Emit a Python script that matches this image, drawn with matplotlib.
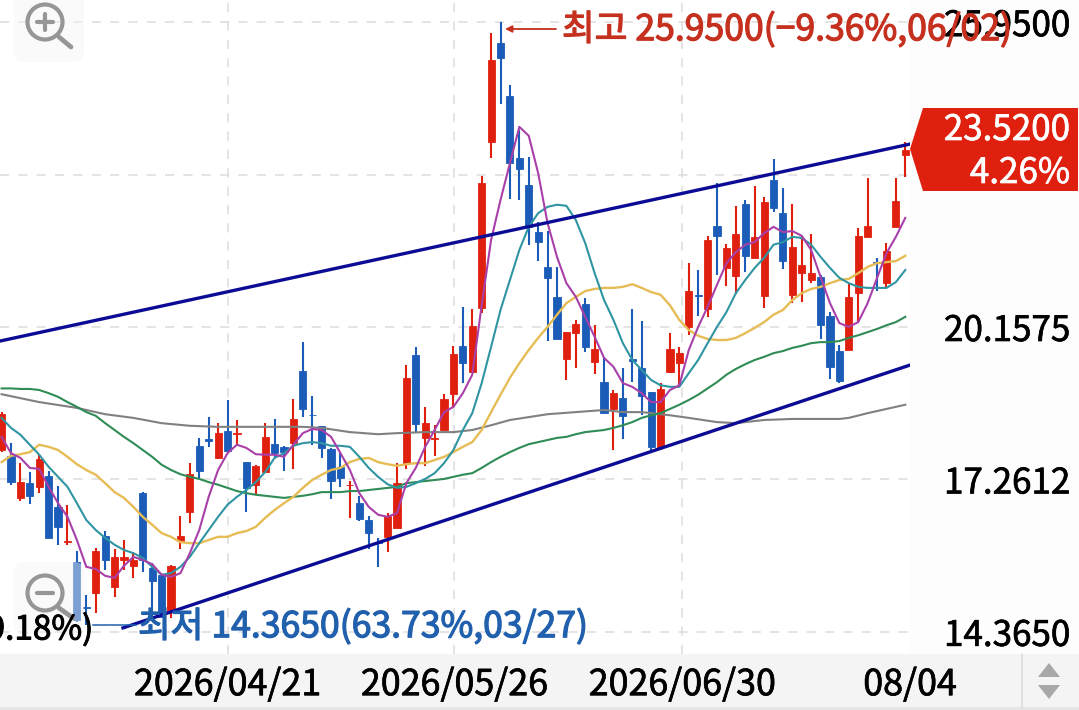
import matplotlib
matplotlib.use('Agg')
import numpy as np
import matplotlib.pyplot as plt
import matplotlib.patheffects as pe
from matplotlib.patches import Circle, FancyBboxPatch, Polygon, Rectangle

plt.rcParams['font.family'] = ['Noto Sans CJK KR', 'DejaVu Sans']

# ---- candles, oldest first ----
opens = [17.82,17.71,16.91,17.19,17.12,17.33,16.74,16.07,15.69,14.84,15.10,16.19,15.22,15.73,15.62,17.00,15.58,15.44,14.74,16.09,
         16.64,17.90,18.02,17.67,18.18,18.12,17.59,17.16,17.40,17.93,17.88,17.95,19.32,18.49,18.28,17.84,17.50,17.15,16.81,16.49,
         16.08,16.17,16.34,17.57,19.63,18.05,18.02,18.20,18.88,19.80,19.30,20.52,23.67,25.55,24.55,23.37,22.85,21.96,21.30,20.73,
         19.55,20.04,20.59,19.49,19.11,18.60,18.81,19.54,19.38,18.92,17.88,19.30,19.47,20.16,20.76,20.50,22.08,21.28,21.13,22.49,
         21.47,20.75,22.95,22.32,20.76,21.18,21.05,21.11,20.37,19.70,19.72,20.80,21.87,21.40,20.99,22.06,23.42]
closes = [18.50,17.21,17.21,16.95,17.65,16.15,16.36,16.09,14.59,14.82,15.90,15.73,15.79,15.79,15.73,15.73,15.33,14.65,15.62,16.19,
          17.36,17.42,18.00,18.14,17.80,18.14,17.10,17.52,18.07,17.76,17.78,18.41,18.60,18.48,17.86,17.23,17.29,17.16,16.51,16.24,
          16.06,16.57,17.19,19.19,18.31,18.33,18.04,18.79,19.64,19.47,20.18,22.89,25.23,25.27,23.27,23.16,22.06,21.77,21.09,19.93,
          20.06,20.21,19.78,19.74,18.52,18.90,18.47,19.52,18.85,17.88,18.98,19.74,19.66,20.84,20.74,21.81,21.89,21.66,21.92,21.51,
          21.87,22.53,22.42,21.41,21.68,21.34,21.18,20.19,19.40,19.13,20.73,21.89,22.08,21.38,21.60,22.55,23.52]
highs = [18.54,17.95,17.57,17.40,17.74,17.42,17.14,16.78,15.90,15.07,15.96,16.28,15.94,16.11,15.88,17.02,15.67,15.44,15.63,16.57,
         17.57,18.05,18.45,18.33,18.77,18.39,17.59,17.54,18.33,18.41,17.90,18.79,19.87,18.85,18.28,17.86,17.78,17.23,16.95,16.57,
         16.15,16.62,17.57,19.43,19.78,18.64,18.30,18.88,19.80,20.54,20.50,23.03,25.74,25.95,24.75,23.90,23.39,22.15,21.98,21.30,
         20.06,20.29,20.71,20.19,19.59,18.96,19.38,20.50,20.27,18.92,19.09,20.04,19.78,21.37,21.24,21.89,22.89,21.73,22.46,22.57,
         22.84,22.63,23.35,22.80,22.49,21.87,21.92,21.15,20.44,19.82,20.99,22.04,22.99,21.47,21.75,22.99,23.67]
lows = [17.78,17.15,16.85,16.79,17.00,16.15,16.02,16.02,14.55,14.50,14.72,15.54,15.03,15.54,15.39,15.50,14.65,14.63,14.63,15.94,
        16.43,17.29,17.88,17.65,17.78,17.90,16.64,16.98,17.38,17.69,17.42,17.46,18.45,17.92,17.67,16.89,17.12,16.53,16.47,15.94,
        15.60,15.88,16.34,17.46,18.14,17.52,17.71,18.18,18.64,19.09,19.30,20.42,23.37,24.39,22.59,22.57,21.71,21.41,19.89,19.93,
        19.15,19.38,19.68,19.26,18.52,17.82,18.03,19.11,18.48,17.82,17.82,19.28,19.02,20.00,20.37,20.35,21.15,20.94,20.78,21.20,
        21.47,20.52,22.34,21.26,20.61,20.63,20.99,19.93,19.17,19.09,19.72,20.25,21.87,20.84,20.92,22.06,23.01]

# ---- moving averages ----
ma5 = [18.07,17.76,17.67,17.48,17.46,17.12,16.81,16.55,16.11,15.60,15.56,15.43,15.39,15.62,15.79,15.73,15.65,15.45,15.41,15.48,
       15.86,16.30,16.93,17.44,17.76,17.92,17.86,17.74,17.73,17.73,17.69,17.92,18.14,18.22,18.20,18.07,17.76,17.44,17.00,16.74,
       16.59,16.55,16.62,17.19,17.48,17.88,18.20,18.54,18.64,18.90,19.25,20.57,21.81,22.57,23.27,23.96,23.79,23.08,22.13,21.49,
       20.99,20.73,20.35,19.97,19.57,19.40,19.09,19.02,18.90,18.73,18.73,18.96,19.05,19.72,20.16,20.54,20.96,21.37,21.58,21.72,
       21.77,21.94,22.06,21.96,21.98,21.89,21.62,21.11,20.61,20.23,20.16,20.25,20.61,21.09,21.56,21.87,22.23]
ma10 = [18.43,18.24,18.11,17.92,17.73,17.50,17.31,17.12,16.81,16.49,16.30,16.15,16.02,15.92,15.86,15.77,15.60,15.45,15.48,15.60,
        15.79,16.05,16.30,16.55,16.78,16.93,17.06,17.21,17.40,17.67,17.76,17.90,17.95,17.97,17.95,17.90,17.90,17.88,17.69,17.48,
        17.31,17.17,17.10,17.12,17.19,17.27,17.38,17.57,17.82,18.20,18.52,19.09,19.78,20.48,21.05,21.62,22.06,22.32,22.44,22.48,
        22.46,22.19,21.75,21.18,20.67,20.29,19.85,19.53,19.34,19.15,19.05,19.02,19.02,19.28,19.53,19.85,20.16,20.44,20.80,21.05,
        21.28,21.47,21.72,21.77,21.87,21.85,21.72,21.49,21.28,21.09,20.99,20.92,20.90,20.90,20.90,21.01,21.24]
ma20 = [17.59,17.71,17.74,17.78,17.92,17.88,17.82,17.69,17.55,17.44,17.35,17.19,17.02,16.91,16.74,16.55,16.40,16.24,16.17,16.07,
        16.05,16.05,16.11,16.17,16.17,16.24,16.28,16.36,16.53,16.68,16.81,16.93,17.10,17.25,17.35,17.44,17.48,17.59,17.65,17.67,
        17.59,17.55,17.52,17.55,17.57,17.57,17.63,17.69,17.78,17.88,17.97,18.20,18.54,18.87,19.19,19.47,19.72,19.95,20.16,20.39,
        20.61,20.73,20.84,20.88,20.90,20.90,20.92,20.97,20.90,20.82,20.77,20.57,20.29,20.10,19.99,19.93,19.91,19.91,19.95,20.04,
        20.14,20.25,20.39,20.48,20.67,20.80,20.88,20.92,20.99,21.05,21.07,21.18,21.30,21.37,21.39,21.41,21.51]
ma60 = [18.99,18.99,18.98,18.98,18.96,18.90,18.83,18.73,18.64,18.54,18.47,18.33,18.20,18.07,17.95,17.82,17.69,17.54,17.44,17.36,
        17.31,17.27,17.21,17.16,17.10,17.04,17.00,16.97,16.95,16.93,16.91,16.93,16.95,16.98,17.02,17.02,17.02,17.04,17.04,17.06,
        17.08,17.10,17.12,17.19,17.21,17.23,17.25,17.27,17.31,17.35,17.38,17.48,17.59,17.69,17.78,17.86,17.93,17.97,18.01,18.05,
        18.07,18.12,18.16,18.18,18.20,18.24,18.29,18.35,18.43,18.48,18.52,18.60,18.68,18.77,18.87,18.99,19.11,19.25,19.36,19.45,
        19.53,19.59,19.66,19.70,19.76,19.80,19.85,19.87,19.87,19.89,19.95,20.00,20.06,20.12,20.19,20.25,20.35]
ma120_idx = [-1,3,7,10,13,16,19,22,25,28,31,33,36,39,41,44,47,49,51,53,57,60,63,65,67,70,72,75,77,80,83,88,89,91,93,95]
ma120 = [18.88,18.73,18.62,18.50,18.43,18.33,18.28,18.26,18.26,18.26,18.26,18.24,18.16,18.12,18.14,18.16,18.16,18.20,18.29,18.39,
         18.50,18.54,18.58,18.54,18.54,18.48,18.43,18.35,18.33,18.39,18.41,18.41,18.43,18.52,18.60,18.68]

# channel lines, (bar index, price) at both ends
upper_x = [-1.17, 95.44]
upper_y = [19.89, 23.63]
lower_x = [11.9, 95.44]
lower_y = [14.44, 19.43]

price_ticks = [14.365, 17.2612, 20.1575, 23.0537, 25.95]
price_labels = ['14.3650', '17.2612', '20.1575', '', '25.9500']
date_pos = [23.0, 47.1, 71.3, 95.5]
date_labels = ['2026/04/21', '2026/05/26', '2026/06/30', '08/04']

RED = '#e0200f'
BLUE = '#1a5cb8'
TEXT_RED = '#c5301f'
TEXT_BLUE = '#2160ad'
ICON = '#969696'

fig = plt.figure(figsize=(10.79, 7.10), dpi=100, facecolor='#fdfdfd')

# bottom strip sits behind the chart axes so the date labels stay on top
back = fig.add_axes([0, 0, 1, 1], zorder=-1)
back.set_xlim(0, 1079)
back.set_ylim(710, 0)
back.axis('off')
back.add_patch(Rectangle((0, 654), 1079, 53, fc='#f4f4f4', ec='none'))
back.add_patch(Rectangle((0, 707), 1079, 3, fc='#e6e6e6', ec='none'))
back.plot([1022, 1022], [654, 708], color='#dddddd', lw=1.2)
back.add_patch(Polygon([(1049, 663), (1060, 677), (1038, 677)], fc='#a8a8a8', ec='none'))
back.add_patch(Polygon([(1049, 699), (1060, 685), (1038, 685)], fc='#a8a8a8', ec='none'))

ax = fig.add_axes([0, 56/710, 910/1079, 654/710])
ax.set_xlim(-1.168, 95.44)
ax.set_ylim(13.944, 26.37)
for s in ax.spines.values():
    s.set_visible(False)

idx = np.arange(len(opens)) - 1
o = np.array(opens)
c = np.array(closes)
colors = [RED if cc >= oo else BLUE for oo, cc in zip(o, c)]

ax.grid(True, color='#dcdcdc', lw=1.1, ls=(0, (6, 6)))
ax.set_axisbelow(True)

ax.vlines(idx, lows, highs, colors=colors, lw=1.5, zorder=2)
ax.bar(idx, np.abs(c - o), bottom=np.minimum(o, c), width=0.76, color=colors,
       edgecolor=colors, lw=0.6, zorder=2.1)

ax.plot(ma120_idx, ma120, color='#808080', lw=1.5, zorder=3)
ax.plot(idx, ma60, color='#2f8c55', lw=1.5, zorder=3)
ax.plot(idx, ma20, color='#e6bc55', lw=1.7, zorder=3)
ax.plot(idx, ma10, color='#2f95a3', lw=1.5, zorder=3)
ax.plot(idx, ma5, color='#a93fa8', lw=1.5, zorder=3)

ax.plot(upper_x, upper_y, color='#0b0b96', lw=2.4, zorder=4)
ax.plot(lower_x, lower_y, color='#0b0b96', lw=2.4, zorder=4)

ax.set_yticks(price_ticks, price_labels)
ax.set_xticks(date_pos, date_labels)
ax.yaxis.tick_right()
ax.tick_params(axis='y', length=0, pad=24.5, labelsize=25.2, labelcolor='black')
ax.tick_params(axis='x', length=0, pad=9.5, labelsize=25.8, labelcolor='black')
# no vertical grid line on the last date
ax.get_xgridlines()[-1].set_visible(False)
thick = [pe.withStroke(linewidth=0.5, foreground='black')]
for lab in ax.get_xticklabels() + ax.get_yticklabels():
    lab.set_path_effects(thick)

# screen furniture, in pixels
ui = fig.add_axes([0, 0, 1, 1], zorder=5)
ui.set_xlim(0, 1079)
ui.set_ylim(710, 0)
ui.axis('off')
ui.patch.set_alpha(0)

for top, sign in ((-10, '+'), (562, '-')):
    cy = 22 if sign == '+' else 593
    ui.add_patch(FancyBboxPatch((18, top + 4), 62, 64, boxstyle='round,pad=4,rounding_size=10',
                                fc='#f5f5f5', ec='none', alpha=0.45, zorder=2))
    ui.add_patch(Circle((45, cy), 17.5, fc='none', ec=ICON, lw=3, zorder=3))
    ui.plot([59, 71 if sign == '+' else 73], [cy + 15, cy + 25], color=ICON, lw=3.4,
            solid_capstyle='round', zorder=3)
    ui.plot([37, 53], [cy, cy], color=ICON, lw=3, solid_capstyle='round', zorder=3)
    if sign == '+':
        ui.plot([45, 45], [cy - 8, cy + 8], color=ICON, lw=3, solid_capstyle='round', zorder=3)

# high and low callouts
ui.annotate('', xy=(505, 29), xytext=(556, 29), zorder=6,
            arrowprops=dict(arrowstyle='-|>', color=TEXT_RED, lw=1.3, shrinkA=0, shrinkB=0))
ui.text(562, 30, '최고 25.9500(−9.36%,06/02)', color=TEXT_RED, fontsize=25.6,
        va='center', ha='left', zorder=7,
        path_effects=[pe.withStroke(linewidth=0.9, foreground=TEXT_RED)])
ui.plot([93, 136], [625, 625], color=TEXT_BLUE, lw=1.1, zorder=6)
ui.text(138, 627, '최저 14.3650(63.73%,03/27)', color=TEXT_BLUE, fontsize=25.6,
        va='center', ha='left', zorder=7,
        path_effects=[pe.withStroke(linewidth=0.9, foreground=TEXT_BLUE)])
ui.text(93, 630, '9.18%)', color='black', fontsize=24, clip_on=True,
        va='center', ha='right', zorder=7,
        path_effects=[pe.withStroke(linewidth=0.7, foreground='black')])

# last price tag
ui.add_patch(Polygon([(910, 149), (923, 108), (1078, 108), (1078, 191), (923, 191)],
                     fc=RED, ec='none', zorder=6))
ui.text(1070, 130, '23.5200', color='white', fontsize=25.2, ha='right', va='center', zorder=7,
        path_effects=[pe.withStroke(linewidth=0.5, foreground='white')])
ui.text(1070, 173, '4.26%', color='white', fontsize=25.2, ha='right', va='center', zorder=7,
        path_effects=[pe.withStroke(linewidth=0.5, foreground='white')])

fig.savefig('out.png', dpi=100, facecolor=fig.get_facecolor())
